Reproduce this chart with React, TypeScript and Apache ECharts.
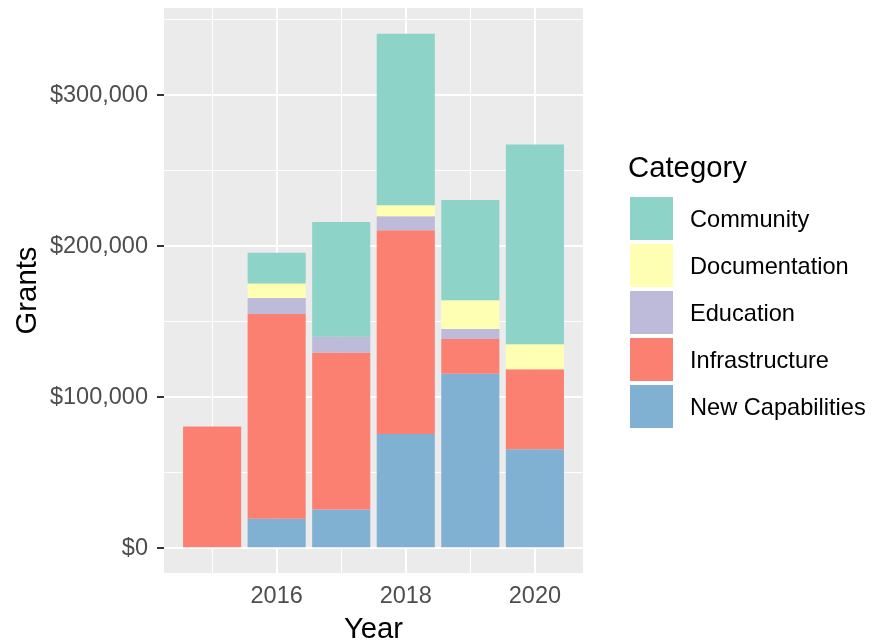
import React, { useEffect, useRef } from "react";
import * as echarts from "echarts";

const years = [2015, 2016, 2017, 2018, 2019, 2020];
const newCapabilities = [0, 19000, 25000, 75000, 115000, 65000];
const infrastructure = [80000, 135500, 104000, 135000, 23000, 53000];
const education = [0, 10700, 10500, 9300, 6600, 0];
const documentation = [0, 9600, 0, 7200, 19000, 16500];
const community = [0, 20300, 76000, 113700, 66400, 132300];

const xTickLabels = [2016, 2018, 2020];
const xMinorBreaks = [2015, 2017, 2019];
const yTickLabels = [0, 100000, 200000, 300000];
const yMinorBreaks = [50000, 150000, 250000, 350000];

const legendOrder = ["Community", "Documentation", "Education", "Infrastructure", "New Capabilities"];

const FONT = "'Liberation Sans', Arial, Helvetica, sans-serif";

export default function App() {
  const ref = useRef<HTMLDivElement>(null);

  useEffect(() => {
    if (!ref.current) return;
    const chart = echarts.init(ref.current, undefined, { renderer: "svg" });

    const totals = years.map(
      (_, i) => newCapabilities[i] + infrastructure[i] + education[i] + documentation[i] + community[i]
    );
    const maxTotal = Math.max(...totals);
    const yMin = -0.05 * maxTotal;
    const yMax = 1.05 * maxTotal;
    const barW = 0.9;
    const xSpan = years[years.length - 1] - years[0] + barW;
    const xMin = years[0] - barW / 2 - 0.05 * xSpan;
    const xMax = years[years.length - 1] + barW / 2 + 0.05 * xSpan;

    const gridLeft = 164;
    const gridWidth = 419;
    const barPx = (barW * gridWidth) / (xMax - xMin);

    // data given as [value, year] so that the value column is the stacked one
    const mk = (name: string, values: number[], color: string, extra: any = {}) => ({
      name,
      type: "bar",
      stack: "total",
      barWidth: barPx,
      itemStyle: { color },
      encode: { x: 1, y: 0 },
      data: years.map((y, i) => [values[i], y]),
      z: 2,
      ...extra,
    });

    const gridLines = [
      ...xTickLabels.map((v) => ({ xAxis: v, lineStyle: { width: 2 } })),
      ...xMinorBreaks.map((v) => ({ xAxis: v, lineStyle: { width: 1 } })),
      ...yTickLabels.map((v) => ({ yAxis: v, lineStyle: { width: 2 } })),
      ...yMinorBreaks.map((v) => ({ yAxis: v, lineStyle: { width: 1 } })),
    ];

    chart.setOption({
      animation: false,
      textStyle: { fontFamily: FONT },
      grid: {
        left: gridLeft,
        top: 8,
        width: gridWidth,
        height: 565,
        show: true,
        backgroundColor: "#EBEBEB",
        borderWidth: 0,
        containLabel: false,
        outerBoundsMode: "none",
      },
      title: {
        text: "Category",
        left: 628,
        top: 152,
        padding: 0,
        textStyle: { fontSize: 29.3, fontWeight: "normal", color: "#000", fontFamily: FONT },
      },
      legend: {
        orient: "vertical",
        left: 630,
        top: 197,
        padding: 0,
        itemWidth: 43,
        itemHeight: 43,
        itemGap: 4,
        icon: "rect",
        data: legendOrder,
        selectedMode: false,
        textStyle: { fontSize: 23.6, color: "#000", fontFamily: FONT, padding: [0, 0, 0, 12] },
      },
      xAxis: {
        type: "value",
        min: xMin,
        max: xMax,
        name: "Year",
        nameLocation: "middle",
        nameGap: 39.5,
        nameTextStyle: { fontSize: 29.3, lineHeight: 30, color: "#000", fontFamily: FONT },
        axisLine: { show: false },
        axisTick: {
          show: true,
          length: 7,
          lineStyle: { color: "#333333", width: 2 },
          customValues: xTickLabels,
        },
        axisLabel: {
          fontSize: 23.5,
          color: "#4D4D4D",
          margin: 10,
          customValues: xTickLabels,
          formatter: (v: number) => String(Math.round(v)),
        },
        splitLine: { show: false },
      },
      yAxis: {
        type: "value",
        min: yMin,
        max: yMax,
        name: "Grants",
        nameLocation: "middle",
        nameGap: 124,
        nameTextStyle: { fontSize: 29.3, color: "#000", fontFamily: FONT },
        axisLine: { show: false },
        axisTick: {
          show: true,
          length: 7,
          lineStyle: { color: "#333333", width: 2 },
          customValues: yTickLabels,
        },
        axisLabel: {
          fontSize: 23.5,
          color: "#4D4D4D",
          margin: 16,
          customValues: yTickLabels,
          formatter: (v: number) => "$" + Math.round(v).toLocaleString("en-US"),
        },
        splitLine: { show: false },
      },
      series: [
        mk("New Capabilities", newCapabilities, "#80B1D3", {
          markLine: {
            silent: true,
            symbol: ["none", "none"],
            label: { show: false },
            z: 1,
            lineStyle: { color: "#FFFFFF", type: "solid" },
            emphasis: { disabled: true },
            data: gridLines,
          },
        }),
        mk("Infrastructure", infrastructure, "#FB8072"),
        mk("Education", education, "#BEBADA"),
        mk("Documentation", documentation, "#FFFFB3"),
        mk("Community", community, "#8DD3C7"),
      ],
    });

    return () => chart.dispose();
  }, []);

  return (
    <div
      ref={ref}
      style={{ position: "fixed", left: 0, top: 0, width: 874, height: 643 }}
    />
  );
}
